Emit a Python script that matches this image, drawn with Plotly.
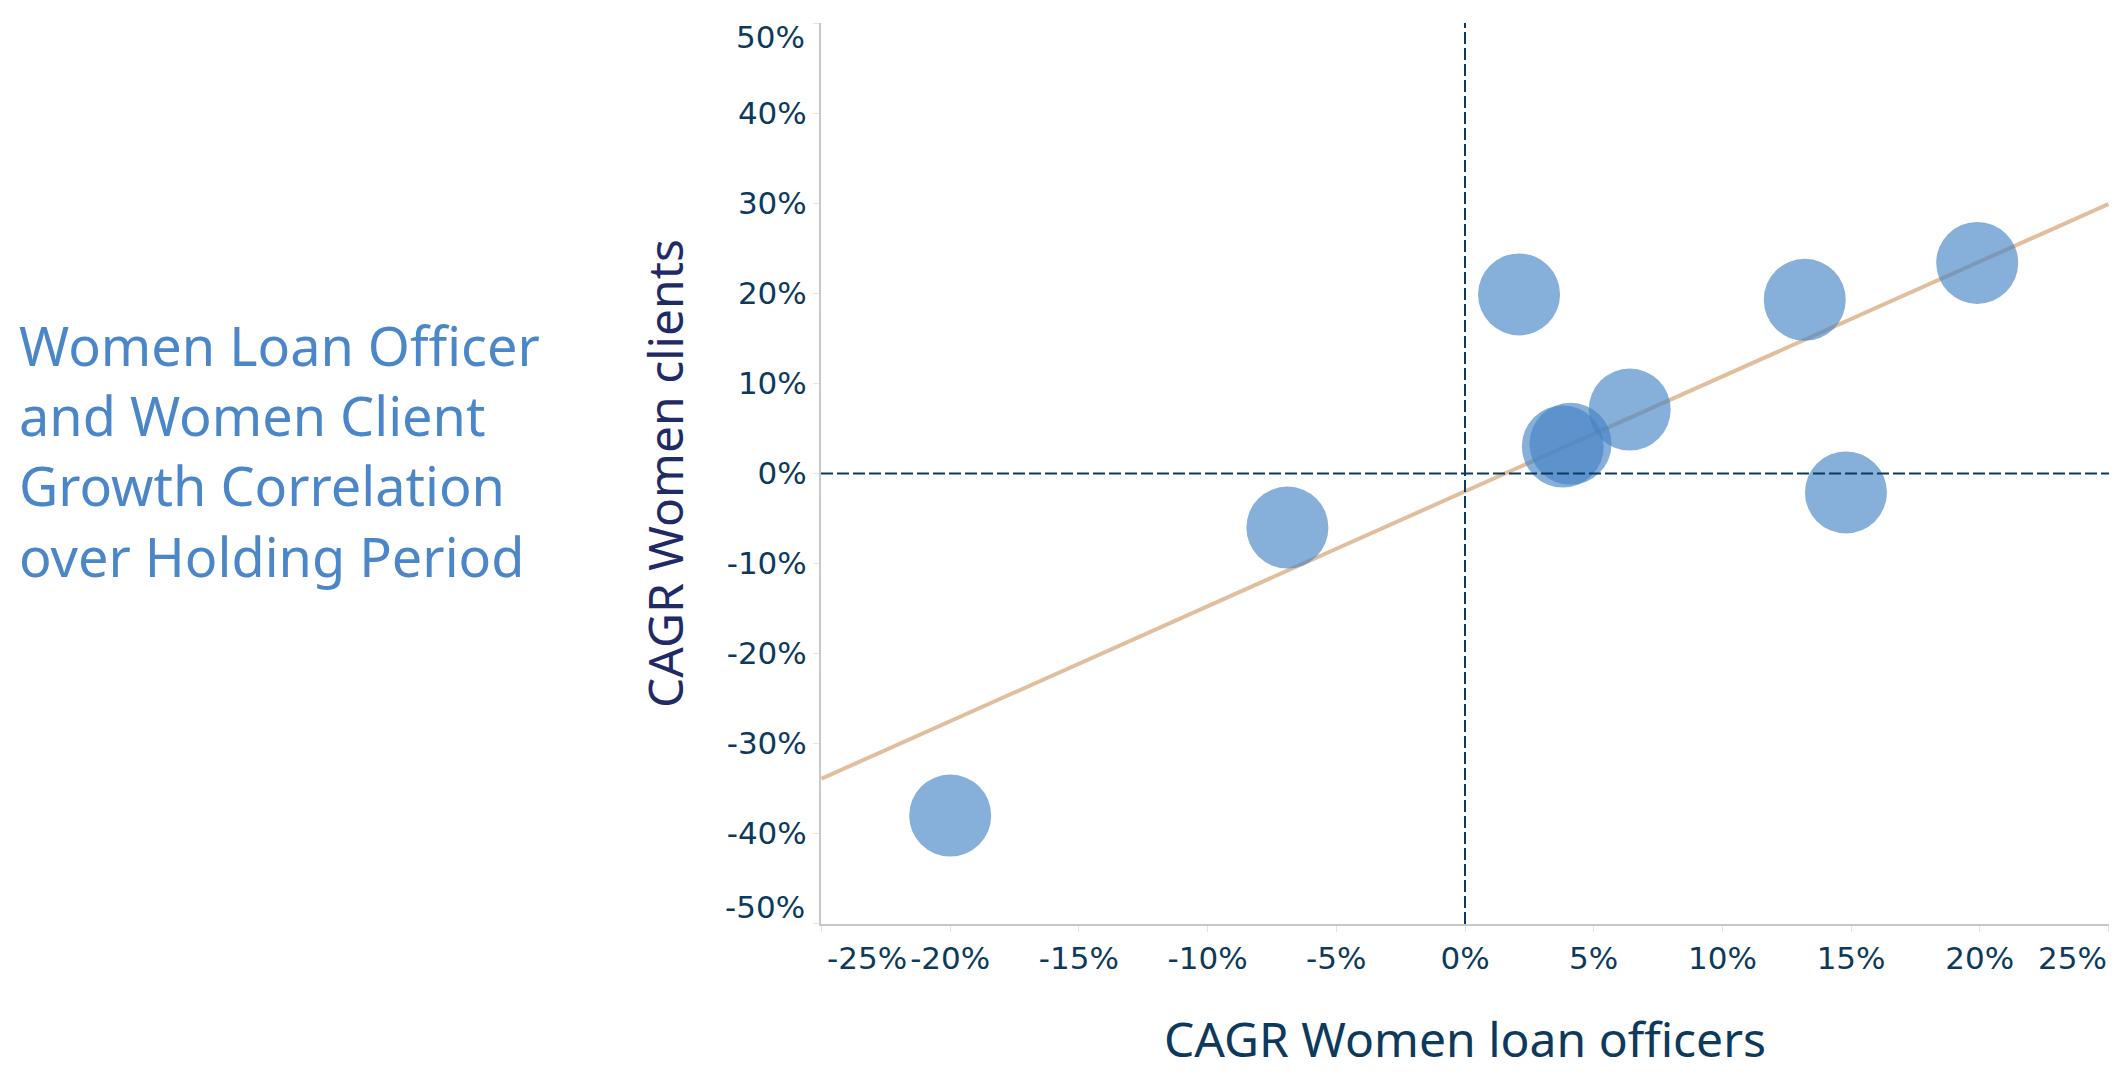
import numpy as np
import plotly.graph_objects as go

# CAGR values (fractions)
officer_growth = [-0.200, -0.069, 0.021, 0.038, 0.041, 0.064, 0.132, 0.148, 0.199]
client_growth = [-0.380, -0.060, 0.199, 0.030, 0.033, 0.071, 0.193, -0.021, 0.234]

x_ticks = [-0.25, -0.20, -0.15, -0.10, -0.05, 0, 0.05, 0.10, 0.15, 0.20, 0.25]
y_ticks = [-0.5, -0.4, -0.3, -0.2, -0.1, 0, 0.1, 0.2, 0.3, 0.4, 0.5]

NAVY = "#0d3a5c"
BLUE = "#4584c5"
FONT = "Noto Sans"
TICK_FONT = "DejaVu Sans"
tick_font = dict(family=TICK_FONT, size=31, color=NAVY)

# least squares trend line across the whole x range
slope, intercept = np.polyfit(officer_growth, client_growth, 1)
trend_x = [x_ticks[0], x_ticks[-1]]
trend_y = [slope * v + intercept for v in trend_x]

# the end labels get pulled inside the plot edges (drawn separately below)
x_labels = [f"{v:.0%}" for v in x_ticks]
y_labels = [f"{v:.0%}" for v in y_ticks]
x_axis_labels = [""] + x_labels[1:-1] + [""]
y_axis_labels = [""] + y_labels[1:-1] + [""]

fig = go.Figure()

fig.add_trace(go.Scatter(
    x=trend_x, y=trend_y, mode="lines",
    line=dict(color="#dcb48e", width=4), opacity=0.85,
    hoverinfo="skip", showlegend=False,
))

fig.add_trace(go.Scatter(
    x=officer_growth, y=client_growth, mode="markers",
    marker=dict(size=82, color=BLUE, opacity=0.65, line=dict(width=0)),
    showlegend=False,
))

fig.add_vline(x=0, line=dict(color=NAVY, width=2, dash="12px,4px"))
fig.add_hline(y=0, line=dict(color=NAVY, width=2, dash="12px,4px"))

fig.add_annotation(
    text="Women Loan Officer<br>and Women Client<br>Growth Correlation<br>over Holding Period",
    xref="paper", yref="paper", x=-0.624, y=0.526,
    xanchor="left", yanchor="middle", align="left", showarrow=False,
    font=dict(family=FONT, size=54, color="#4a86c8"),
)

# end tick labels
fig.add_annotation(text=x_labels[0], xref="paper", yref="paper", x=0, y=0,
                   xanchor="left", yanchor="middle", xshift=4, yshift=-34,
                   showarrow=False, font=tick_font)
fig.add_annotation(text=x_labels[-1], xref="paper", yref="paper", x=1, y=0,
                   xanchor="right", yanchor="middle", xshift=0, yshift=-34,
                   showarrow=False, font=tick_font)
fig.add_annotation(text=y_labels[-1], xref="paper", yref="paper", x=0, y=1,
                   xanchor="right", yanchor="middle", xshift=-14, yshift=-14,
                   showarrow=False, font=tick_font)
fig.add_annotation(text=y_labels[0], xref="paper", yref="paper", x=0, y=0,
                   xanchor="right", yanchor="middle", xshift=-14, yshift=17,
                   showarrow=False, font=tick_font)

fig.update_xaxes(
    range=[-0.2502, 0.2502], tickvals=x_ticks, ticktext=x_axis_labels,
    showgrid=False, zeroline=False, automargin=False,
    showline=True, linecolor="#c8c8c8", linewidth=2,
    ticks="outside", ticklen=6, tickcolor="#e4e4e4",
    tickfont=tick_font,
    title=dict(text="CAGR Women loan officers", standoff=48,
               font=dict(family=FONT, size=48, color=NAVY)),
)
fig.update_yaxes(
    range=[-0.5005, 0.5005], tickvals=y_ticks, ticktext=y_axis_labels,
    showgrid=False, zeroline=False, automargin=False,
    showline=True, linecolor="#c8c8c8", linewidth=2,
    ticks="outside", ticklen=6, tickcolor="#e4e4e4",
    tickfont=tick_font,
    title=dict(text="CAGR Women clients", standoff=28,
               font=dict(family=FONT, size=48, color="#1f2a66")),
)

fig.update_layout(
    width=2114, height=1076,
    margin=dict(l=821, r=5, t=23, b=152),
    plot_bgcolor="white", paper_bgcolor="white",
    font=dict(family=FONT),
)

fig.write_html("out.html", config={"displayModeBar": False},
               post_script="document.body.style.margin='0';")
